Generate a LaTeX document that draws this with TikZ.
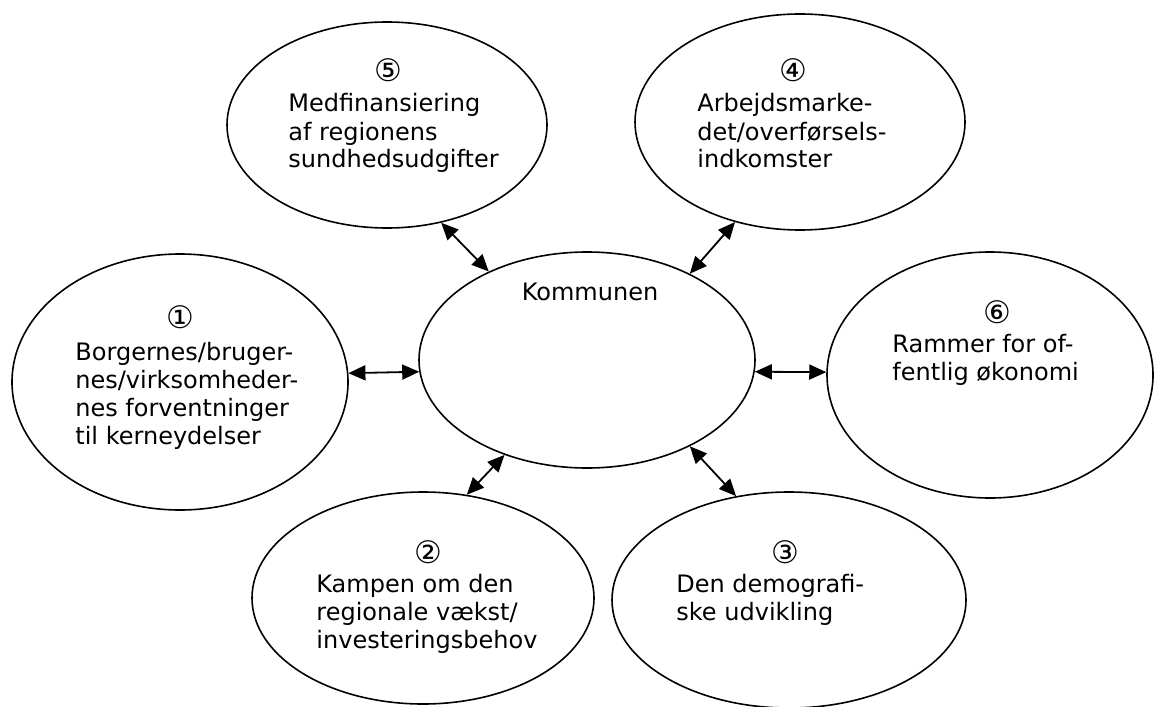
\documentclass[tikz,border=0pt]{standalone}
\usepackage{fontspec}
\setmainfont{DejaVu Sans}
\usetikzlibrary{arrows.meta, positioning, shapes.geometric}

\begin{document}
\begin{tikzpicture}[
    x=0.5pt, y=-0.5pt,
    ovalTheme/.style={
        ellipse,
        draw,
        line width=0.8pt,
        inner sep=0pt
    },
    arrowBoth/.style={
        {Triangle[length=8.5pt,width=7.5pt]}-{Triangle[length=8.5pt,width=7.5pt]},
        line width=0.9pt
    },
    txtBlock/.style={
        anchor=base west,
        inner sep=0pt,
        font=\fontsize{12}{14}\selectfont
    },
    txtNum/.style={
        inner sep=0pt,
        font=\fontsize{15.5}{17}\selectfont
    },
    txtMain/.style={
        inner sep=0pt,
        font=\fontsize{12}{14}\selectfont
    }
]

\useasboundingbox (0,0) rectangle (1154,706);

% Midten
\node[ovalTheme, minimum width=168pt, minimum height=108pt] (k) at (587,360) {};
\node[txtMain] (kTxt) at (590,292) {Kommunen};

% Ring af temaer
\node[ovalTheme, minimum width=168pt, minimum height=128pt] (e1) at (180,382) {};
\node[ovalTheme, minimum width=171pt, minimum height=106pt] (e2) at (423,598) {};
\node[ovalTheme, minimum width=177pt, minimum height=108pt] (e3) at (789,600) {};
\node[ovalTheme, minimum width=165pt, minimum height=108pt] (e4) at (800,122) {};
\node[ovalTheme, minimum width=160pt, minimum height=103pt] (e5) at (387,125) {};
\node[ovalTheme, minimum width=163pt, minimum height=123pt] (e6) at (990,375) {};

% Tekster
\node[txtNum] (n1) at (180,317) {①};
\node[txtBlock] (t1) at (75,360) {\begin{tabular}[t]{@{}l@{}}Borgernes/bruger-\\nes/virksomheder-\\nes forventninger\\til kerneydelser\end{tabular}};

\node[txtNum] (n2) at (428,552) {②};
\node[txtBlock] (t2) at (316,592) {\begin{tabular}[t]{@{}l@{}}Kampen om den\\regionale vækst/\\investeringsbehov\end{tabular}};

\node[txtNum] (n3) at (785,552) {③};
\node[txtBlock] (t3) at (676,592) {\begin{tabular}[t]{@{}l@{}}Den demografi-\\ske udvikling\end{tabular}};

\node[txtNum] (n4) at (793,70) {④};
\node[txtBlock] (t4) at (697,112) {\begin{tabular}[t]{@{}l@{}}Arbejdsmarke-\\det/overførsels-\\indkomster\end{tabular}};

\node[txtNum] (n5) at (388,70) {⑤};
\node[txtBlock] (t5) at (288,112) {\begin{tabular}[t]{@{}l@{}}Medfinansiering\\af regionens\\sundhedsudgifter\end{tabular}};

\node[txtNum] (n6) at (997,312) {⑥};
\node[txtBlock] (t6) at (892,352) {\begin{tabular}[t]{@{}l@{}}Rammer for of-\\fentlig økonomi\end{tabular}};

% Pile
\draw[arrowBoth] (e1.3) -- (k.184.5);
\draw[arrowBoth] (k.-4) -- (e6.179);
\draw[arrowBoth] (e5.-61.5) -- (k.138.8);
\draw[arrowBoth] (e4.237.2) -- (k.40.9);
\draw[arrowBoth] (e2.67) -- (k.229.6);
\draw[arrowBoth] (k.-40.9) -- (e3.117.8);

\end{tikzpicture}
\end{document}
